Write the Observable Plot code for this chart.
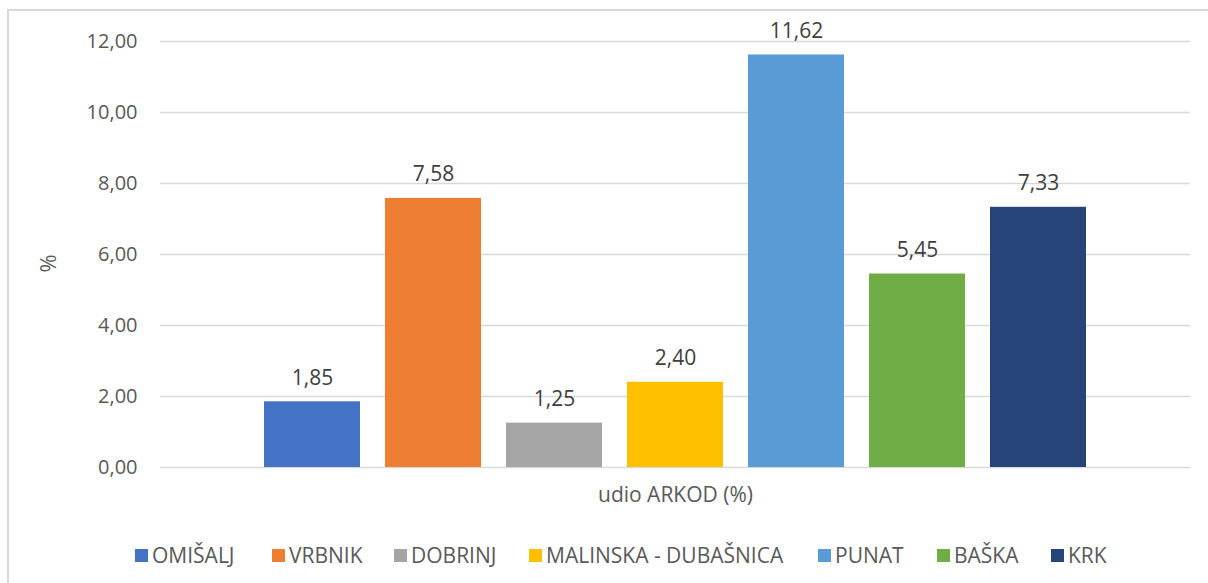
<!DOCTYPE html>
<html>
<head>
<meta charset="utf-8">
<script src="https://cdn.jsdelivr.net/npm/d3@7"></script>
<script src="https://cdn.jsdelivr.net/npm/@observablehq/plot@0.6"></script>
<style>
  html, body { margin: 0; padding: 0; background: #fff; width: 1208px; height: 583px; overflow: hidden; }
  #frame { position: absolute; left: 7px; top: 9px; width: 1210px; height: 600px; border: 2px solid #d9d9d9; box-sizing: border-box; }
  #chart { position: absolute; left: 0; top: 0; }
  #legend { position: absolute; left: 0; top: 541px; width: 1208px; font-family: "Open Sans", sans-serif; font-size: 21px; color: #595959; }
  .item { position: absolute; display: flex; align-items: center; white-space: nowrap; line-height: 28px; }
  .sw { width: 13px; height: 13px; margin-right: 4px; }
</style>
</head>
<body>
<div id="frame"></div>
<div id="chart"></div>
<div id="legend"></div>
<script>
const names = ["OMIŠALJ", "VRBNIK", "DOBRINJ", "MALINSKA - DUBAŠNICA", "PUNAT", "BAŠKA", "KRK"];
const values = [1.85, 7.58, 1.25, 2.40, 11.62, 5.45, 7.33];
const colors = ["#4472C4", "#ED7D31", "#A5A5A5", "#FFC000", "#5B9BD5", "#70AD47", "#264478"];
const yTicks = [0, 2, 4, 6, 8, 10, 12];
const category = "udio ARKOD (%)";
const legendX = [135, 272, 394, 529, 818, 937, 1051];

const data = names.map((n, i) => ({name: n, value: values[i]}));
const fmt = v => v.toFixed(2).replace(".", ",");

const plot = Plot.plot({
  width: 1208,
  height: 520,
  marginTop: 41,
  marginBottom: 53,
  marginLeft: 160,
  marginRight: 18,
  style: {fontFamily: "'Open Sans', sans-serif", fontSize: "20px", color: "#595959", background: "transparent"},
  x: {domain: names, range: [263, 1086], paddingInner: 0.21, paddingOuter: 0, axis: null},
  y: {domain: [0, 12], ticks: yTicks, tickFormat: fmt, label: null},
  color: {domain: names, range: colors},
  marks: [
    Plot.gridY(yTicks, {stroke: "#d9d9d9", strokeOpacity: 1, strokeWidth: 1.5}),
    Plot.axisY(yTicks, {tickFormat: fmt, tickSize: 0, tickPadding: 23, fontSize: 20, fill: "#595959"}),
    Plot.barY(data, {x: "name", y: "value", fill: "name"}),
    Plot.text(data, {x: "name", y: "value", text: d => fmt(d.value), dy: -24, fill: "#404040", fontSize: 21}),
    Plot.text([category], {frameAnchor: "bottom", dy: 34, text: d => d, fill: "#595959", fontSize: 21}),
    Plot.text(["%"], {frameAnchor: "left", dx: -112, dy: 18, rotate: -90, text: d => d, fill: "#595959", fontSize: 22})
  ]
});
document.getElementById("chart").appendChild(plot);

const legend = document.getElementById("legend");
names.forEach((n, i) => {
  const it = document.createElement("div");
  it.className = "item";
  it.style.left = legendX[i] + "px";
  const sw = document.createElement("span");
  sw.className = "sw";
  sw.style.background = colors[i];
  const t = document.createElement("span");
  t.textContent = n;
  it.appendChild(sw);
  it.appendChild(t);
  legend.appendChild(it);
});
</script>
</body>
</html>
